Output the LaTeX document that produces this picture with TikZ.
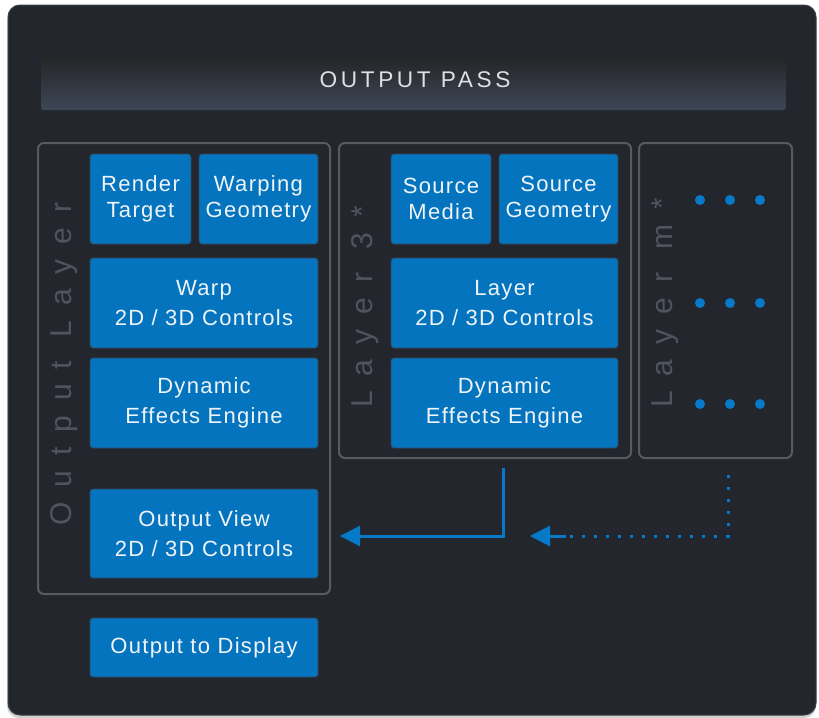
\documentclass[tikz,border=0pt]{standalone}
\usepackage{fontspec}
\setmainfont{Liberation Sans}
\newfontfamily\boxfont[LetterSpace=6]{Liberation Sans}
\newfontfamily\headfont[LetterSpace=16]{Liberation Sans}
\newfontfamily\lblfont[LetterSpace=50]{Liberation Sans}
\usetikzlibrary{arrows.meta}
\definecolor{panel}{RGB}{35,38,45}
\definecolor{panelline}{RGB}{60,63,68}
\definecolor{bluefill}{RGB}{4,116,190}
\definecolor{blueline}{RGB}{50,70,92}
\definecolor{groupline}{RGB}{88,91,96}
\definecolor{lblgray}{RGB}{80,84,92}
\definecolor{arrowblue}{RGB}{6,122,200}
\definecolor{headtop}{RGB}{36,36,38}
\definecolor{headbot}{RGB}{62,71,86}
\definecolor{textwhite}{RGB}{240,244,248}
\tikzset{
  wh/.style 2 args={minimum width=#1*0.75pt, minimum height=#2*0.75pt},
  bluebox/.style={draw=blueline, line width=0.5pt, fill=bluefill, rounded corners=2.25pt,
    inner sep=0pt, text=textwhite, align=center,
    font=\boxfont\fontsize{16.5}{22.5}\selectfont},
  smallbox/.style={bluebox, font=\boxfont\fontsize{16.5}{19.5}\selectfont},
  groupbox/.style={draw=groupline, line width=1.5pt, rounded corners=4.5pt, inner sep=0pt},
  layerlbl/.style={rotate=90, anchor=base west, inner sep=0pt, text=lblgray,
    font=\lblfont\fontsize{22.5}{27}\selectfont},
  bluedot/.style={circle, fill=arrowblue, minimum size=7.5pt, inner sep=0pt},
  flow/.style={draw=arrowblue, line width=2.25pt},
  tipflow/.style={flow, -{Triangle[length=15pt,width=15pt]}},
}
\begin{document}
\begin{tikzpicture}[x=0.75pt,y=-0.75pt]
\useasboundingbox (0,0) rectangle (819,718);
% outer panel
\fill[black!18, rounded corners=9pt] (7,8) rectangle (816,718);
\draw[fill=panel, draw=panelline, line width=0.75pt, rounded corners=9pt] (8,5) rectangle (816,715);
% header
\shade[top color=headtop, bottom color=headbot, rounded corners=2pt] (41,55) rectangle (786,110);
\node[text=textwhite!92!black, font=\headfont\fontsize{17}{19}\selectfont] (hdr) at (415,80) {OUTPUT PASS};
% group boxes
\node[groupbox, wh={292}{451}] (g1) at (184,368.5) {};
\node[groupbox, wh={292}{315}] (g3) at (485,300.5) {};
\node[groupbox, wh={153}{315}] (gm) at (715.5,300.5) {};
% layer labels
\node[layerlbl] (l1) at (71,526) {Output Layer};
\node[layerlbl] (l3) at (372,408) {Layer 3*};
\node[layerlbl] (lm) at (672,408) {Layer m*};
% output layer boxes
\node[smallbox, wh={101}{90}] (rt) at (140.5,199) {Render\\Target};
\node[smallbox, wh={119}{90}] (wg) at (258.5,199) {Warping\\Geometry};
\node[bluebox, wh={228}{90}] (warp) at (204,303) {Warp\\2D / 3D Controls};
\node[bluebox, wh={228}{90}] (dyn1) at (204,403) {Dynamic\\Effects Engine};
\node[bluebox, wh={228}{89}] (ov) at (204,533.5) {Output View\\2D / 3D Controls};
\node[bluebox, wh={228}{59}] (otd) at (204,647.5) {Output to Display};
% layer 3 boxes
\node[smallbox, wh={100}{90}] (sm) at (441,199) {Source\\Media};
\node[smallbox, wh={119}{90}] (sg) at (558.5,199) {Source\\Geometry};
\node[bluebox, wh={227}{90}] (lay) at (504.5,303) {Layer\\2D / 3D Controls};
\node[bluebox, wh={227}{90}] (dyn2) at (504.5,403) {Dynamic\\Effects Engine};
% dots
\foreach \r/\yy in {a/200,b/303,c/404}{
  \foreach \c/\xx in {1/700,2/730,3/760}{
    \node[bluedot] (d\r\c) at (\xx,\yy) {};
  }
}
% arrows
\coordinate (s1) at (503,468);
\coordinate (e1) at (340,536);
\draw[tipflow] (s1) |- (e1);
\coordinate (s2) at (728,475);
\coordinate (m2) at (566,536);
\coordinate (e2) at (530,536);
\draw[flow, dash pattern=on 2.5pt off 6.5pt] (s2) |- (m2);
\draw[tipflow] (m2) -- (e2);
\end{tikzpicture}
\end{document}
